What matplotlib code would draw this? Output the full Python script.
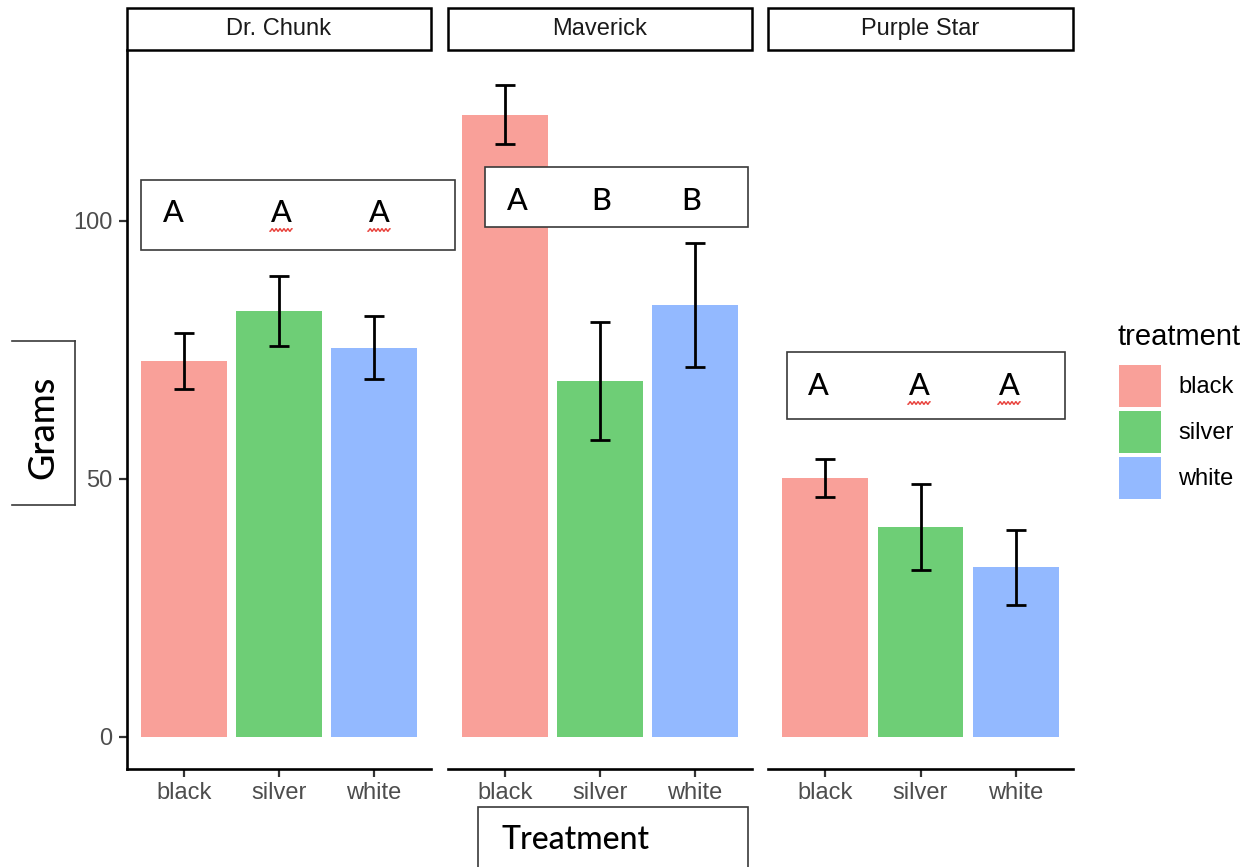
import matplotlib.pyplot as plt
from matplotlib.patches import Rectangle
from matplotlib.lines import Line2D
import numpy as np

W, H = 1252, 867

cultivars = ["Dr. Chunk", "Maverick", "Purple Star"]
treatments = ["black", "silver", "white"]
means = {
    "Dr. Chunk": [72.9, 82.6, 75.4],
    "Maverick": [120.6, 69.0, 83.7],
    "Purple Star": [50.2, 40.7, 32.9],
}
errors = {
    "Dr. Chunk": [5.4, 6.8, 6.1],
    "Maverick": [5.8, 11.4, 12.0],
    "Purple Star": [3.7, 8.3, 7.3],
}
letters = {
    "Dr. Chunk": ["A", "A", "A"],
    "Maverick": ["A", "B", "B"],
    "Purple Star": ["A", "A", "A"],
}
colors = ["#F9A099", "#6ECE76", "#93B9FF"]

plt.rcParams['font.family'] = ['Liberation Sans', 'DejaVu Sans']
ANNOT_FONT = ['Lato', 'DejaVu Sans']

fig = plt.figure(figsize=(W / 100, H / 100), dpi=100)


def fx(x):
    return x / W


def fy(y):
    return 1 - y / H


def rect_box(x0, y0, x1, y1):
    return [fx(x0), fy(y1), (x1 - x0) / W, (y1 - y0) / H]


# facet panels
panel_x = [(127, 431), (448, 752), (768, 1073)]
top, bottom = 50, 769
for i, (name, (x0, x1)) in enumerate(zip(cultivars, panel_x)):
    ax = fig.add_axes(rect_box(x0, top, x1, bottom))
    pos = np.arange(len(treatments))
    ax.bar(pos, means[name], width=0.9, color=colors, linewidth=0)
    ax.errorbar(pos, means[name], yerr=errors[name], fmt='none', ecolor='black',
                elinewidth=2.0, capsize=7, capthick=2.0)
    ax.set_xlim(-0.6, 2.6)
    ax.set_ylim(-6.2, 133.1)
    ax.set_xticks(pos)
    ax.set_xticklabels(treatments)
    for s in ['top', 'right']:
        ax.spines[s].set_visible(False)
    ax.spines['bottom'].set_linewidth(1.9)
    ax.spines['left'].set_linewidth(1.9)
    ax.tick_params(axis='x', length=5.5, width=1.6, pad=4, labelsize=17,
                   labelcolor='#4D4D4D', color='#333333')
    if i == 0:
        ax.set_yticks([0, 50, 100])
        ax.tick_params(axis='y', length=5.5, width=1.6, pad=5, labelsize=17,
                       labelcolor='#4D4D4D', color='#333333')
    else:
        ax.spines['left'].set_visible(False)
        ax.tick_params(axis='y', left=False, labelleft=False)

    # strip header
    fig.add_artist(Rectangle((fx(x0), fy(50)), (x1 - x0) / W, 42 / H,
                             transform=fig.transFigure, facecolor='white',
                             edgecolor='black', linewidth=1.8))
    fig.text(fx((x0 + x1) / 2), fy(29), name, ha='center', va='center',
             fontsize=17, color='#1A1A1A')

# significance letter boxes
letter_boxes = {
    "Dr. Chunk": ((141, 180, 455, 250), [173, 281, 379], 213),
    "Maverick": ((485, 167, 748, 227), [517, 601, 691], 201),
    "Purple Star": ((787, 352, 1065, 419), [818, 919, 1009], 386),
}
for name in cultivars:
    (bx0, by0, bx1, by1), xs, ty = letter_boxes[name]
    fig.add_artist(Rectangle((fx(bx0), fy(by1)), (bx1 - bx0) / W, (by1 - by0) / H,
                             transform=fig.transFigure, facecolor='white',
                             edgecolor='#3A3A3A', linewidth=1.2, zorder=5))
    for j, (lx, lt) in enumerate(zip(xs, letters[name])):
        fig.text(fx(lx), fy(ty), lt, ha='center', va='center', fontsize=22,
                 family=ANNOT_FONT, weight='medium', color='black', zorder=6)
        # spell-check squiggle under repeated letters
        if name != "Maverick" and j > 0:
            wx = np.linspace(lx - 11, lx + 11, 60)
            wy = ty + 17 + 1.3 * np.sin((wx - lx) * 1.6)
            fig.add_artist(Line2D(fx(wx), fy(wy), transform=fig.transFigure,
                                  color='#E8403A', linewidth=1.0, zorder=6))

# y axis title box (left edge open)
for (xa, ya), (xb, yb) in [((12, 341), (75, 341)), ((75, 341), (75, 505)),
                           ((12, 505), (75, 505))]:
    fig.add_artist(Line2D([fx(xa), fx(xb)], [fy(ya), fy(yb)],
                          transform=fig.transFigure, color='#3A3A3A', linewidth=1.2))
fig.text(fx(43), fy(427), "Grams", rotation=90, ha='center', va='center',
         fontsize=26, family=ANNOT_FONT, weight='medium', color='black')

# x axis title box
fig.add_artist(Rectangle((fx(478), fy(870)), 270 / W, 63 / H,
                         transform=fig.transFigure, facecolor='white',
                         edgecolor='#3A3A3A', linewidth=1.2))
fig.text(fx(502), fy(840), "Treatment", ha='left', va='center',
         fontsize=23, family=ANNOT_FONT, weight='medium', color='black')

# legend
fig.text(fx(1117), fy(337), "treatment", ha='left', va='center', fontsize=21,
         color='black')
for k, (lab, c) in enumerate(zip(treatments, colors)):
    ky = 365 + 46 * k
    fig.add_artist(Rectangle((fx(1119), fy(ky + 42)), 42 / W, 42 / H,
                             transform=fig.transFigure, facecolor=c,
                             edgecolor='none'))
    fig.text(fx(1178), fy(ky + 22), lab, ha='left', va='center', fontsize=17,
             color='black')

fig.savefig("out.png", dpi=100, facecolor='white')
